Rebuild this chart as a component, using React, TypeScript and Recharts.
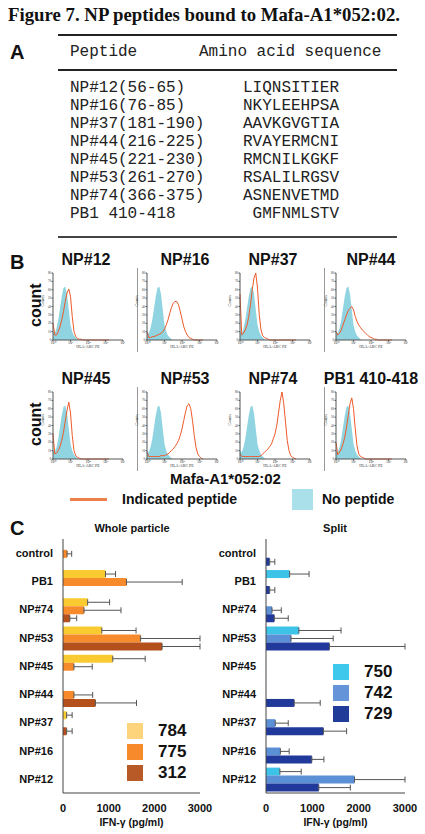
import React from 'react'
import { ComposedChart, Area, Line, BarChart, Bar, ErrorBar, XAxis, YAxis } from 'recharts'

// ---- panel A: peptide table ----
const peptideNames = ['NP#12(56-65)', 'NP#16(76-85)', 'NP#37(181-190)', 'NP#44(216-225)', 'NP#45(221-230)', 'NP#53(261-270)', 'NP#74(366-375)', 'PB1 410-418']
const peptideSeqs = ['LIQNSITIER', 'NKYLEEHPSA', 'AAVKGVGTIA', 'RVAYERMCNI', 'RMCNILKGKF', 'RSALILRGSV', 'ASNENVETMD', ' GMFNMLSTV']

// ---- panel B: flow histograms (x = log10 fluorescence, y = counts) ----
const histBins = [0, 0.1, 0.2, 0.3, 0.4, 0.5, 0.6, 0.7, 0.8, 0.9, 1.0, 1.1, 1.2, 1.3, 1.4, 1.5, 1.6, 1.7, 1.8, 1.9, 2.0, 2.1, 2.2, 2.3, 2.4, 2.5, 2.6, 2.7, 2.8, 2.9, 3.0, 3.1, 3.2]
const noPeptide = [10, 8, 14, 24, 38, 52, 62, 64, 55, 36, 18, 10, 5, 3, 1, 0, 0, 0, 0, 0, 0, 0, 0, 0, 0, 0, 0, 0, 0, 0, 0, 0, 0]
const np12Counts = [20, 6, 6, 10, 16, 24, 34, 46, 56, 61, 52, 28, 10, 4, 2, 1, 1, 0, 0, 0, 0, 0, 0, 0, 0, 0, 0, 0, 0, 0, 0, 0, 0]
const np16Counts = [10, 3, 3, 4, 4, 5, 6, 7, 8, 10, 13, 18, 24, 32, 39, 44, 46, 46, 42, 34, 25, 16, 10, 6, 3, 2, 1, 0, 0, 0, 0, 0, 0]
const np37Counts = [55, 6, 8, 12, 18, 28, 42, 60, 74, 80, 62, 30, 12, 5, 3, 2, 1, 0, 0, 0, 0, 0, 0, 0, 0, 0, 0, 0, 0, 0, 0, 0, 0]
const np44Counts = [10, 6, 8, 12, 18, 24, 30, 35, 38, 40, 36, 28, 22, 18, 15, 12, 10, 8, 6, 4, 3, 2, 1, 1, 0, 0, 0, 0, 0, 0, 0, 0, 0]
const np45Counts = [30, 6, 7, 10, 15, 22, 32, 45, 58, 68, 55, 28, 10, 4, 2, 1, 0, 0, 0, 0, 0, 0, 0, 0, 0, 0, 0, 0, 0, 0, 0, 0, 0]
const np53Counts = [8, 3, 3, 3, 3, 3, 3, 3, 4, 4, 4, 5, 6, 8, 10, 12, 15, 18, 22, 28, 36, 46, 56, 64, 66, 60, 46, 28, 14, 6, 3, 1, 0]
const np74Counts = [6, 3, 3, 3, 3, 3, 3, 3, 3, 3, 3, 3, 4, 6, 8, 10, 12, 15, 18, 24, 30, 40, 55, 70, 80, 66, 44, 22, 10, 4, 2, 1, 0]
const pb1Counts = [20, 5, 8, 12, 18, 26, 38, 52, 66, 73, 60, 36, 16, 6, 3, 2, 1, 0, 0, 0, 0, 0, 0, 0, 0, 0, 0, 0, 0, 0, 0, 0, 0]
const histTitles = ['NP#12', 'NP#16', 'NP#37', 'NP#44', 'NP#45', 'NP#53', 'NP#74', 'PB1 410-418']
const histCounts = [np12Counts, np16Counts, np37Counts, np44Counts, np45Counts, np53Counts, np74Counts, pb1Counts]
const histTicksX = [0, 1, 2, 3, 4]
const histTicksY = [0, 10, 20, 30, 40, 50, 60, 70, 80]

// ---- panel C: IFN-gamma ----
const categories = ['control', 'PB1', 'NP#74', 'NP#53', 'NP#45', 'NP#44', 'NP#37', 'NP#16', 'NP#12']
const whole784 = [0, 930, 540, 850, 1090, 0, 80, 0, 0]
const whole784Err = [0, 220, 480, 750, 710, 0, 120, 0, 0]
const whole775 = [90, 1390, 460, 1700, 240, 240, 0, 0, 0]
const whole775Err = [100, 1220, 810, 1300, 400, 410, 0, 0, 0]
const whole312 = [0, 0, 150, 2170, 0, 710, 80, 0, 0]
const whole312Err = [0, 0, 150, 830, 0, 900, 120, 0, 0]
const split750 = [0, 510, 0, 710, 0, 0, 0, 0, 300]
const split750Err = [0, 420, 0, 910, 0, 0, 0, 0, 460]
const split742 = [0, 0, 130, 540, 0, 0, 200, 310, 1910]
const split742Err = [0, 0, 200, 910, 0, 0, 280, 190, 1090]
const split729 = [80, 80, 180, 1370, 0, 610, 1240, 990, 1140]
const split729Err = [110, 110, 300, 1630, 0, 560, 500, 260, 680]
const ifnTicks = [0, 1000, 2000, 3000]

const sans = 'Arial, "Liberation Sans", sans-serif'
const mono = '"Courier New", "Liberation Mono", monospace'
const sup = ['\u2070', '\u00b9', '\u00b2', '\u00b3', '\u2074']

function abs(left: number, top: number, extra: React.CSSProperties = {}): React.CSSProperties {
  return { position: 'absolute', left, top, ...extra }
}

function Histogram({ counts, left, top }: { counts: number[]; left: number; top: number }) {
  const data = histBins.map((x, i) => ({ x, none: noPeptide[i], pep: counts[i] }))
  const ml = 10
  return (
    <div style={abs(left - ml - 3, top - 2)}>
      <ComposedChart width={3 + ml + 70 + 2} height={2 + 67 + 16} data={data} margin={{ top: 2, right: 2, bottom: 0, left: 3 }}>
        <XAxis
          dataKey="x"
          type="number"
          domain={[0, 4]}
          ticks={histTicksX}
          interval={0}
          tickFormatter={(v: number) => '10' + sup[v]}
          tick={{ fontSize: 4, fill: '#333' }}
          tickSize={1.5}
          tickMargin={0}
          height={16}
          axisLine={{ stroke: '#555' }}
          tickLine={{ stroke: '#555' }}
          label={{ value: 'HLA-ABC PE', position: 'insideBottom', offset: 8, fontSize: 4, fill: '#333' }}
        />
        <XAxis xAxisId="top" orientation="top" type="number" domain={[0, 4]} tick={false} tickLine={false} height={0} axisLine={{ stroke: '#aaa' }} />
        <YAxis
          type="number"
          domain={[0, 80]}
          ticks={histTicksY}
          interval={0}
          tick={{ fontSize: 3, fill: '#333' }}
          tickSize={1.5}
          tickMargin={0.5}
          width={ml}
          axisLine={{ stroke: '#555' }}
          tickLine={{ stroke: '#555' }}
          label={{ value: 'Counts', angle: -90, position: 'insideLeft', offset: 0, fontSize: 4, fill: '#333' }}
        />
        <YAxis yAxisId="right" orientation="right" type="number" domain={[0, 80]} width={0} tick={false} tickLine={false} axisLine={{ stroke: '#aaa' }} />
        <Area dataKey="none" type="linear" fill="#8fd4e0" fillOpacity={1} stroke="none" isAnimationActive={false} />
        <Line dataKey="pep" type="linear" stroke="#ee5a2a" strokeWidth={1} dot={false} isAnimationActive={false} />
      </ComposedChart>
    </div>
  )
}

type Series = { name: string; values: number[]; errors: number[]; color: string }

function IfnChart({ left, plotW, series }: { left: number; plotW: number; series: Series[] }) {
  const data = categories.map((name, i) => {
    const row: Record<string, unknown> = { name }
    series.forEach((s, k) => {
      row['v' + k] = s.values[i]
      row['e' + k] = s.errors[i] > 0 ? [0, s.errors[i]] : null
    })
    return row
  })
  const yw = 63
  return (
    <div style={abs(left, 535)}>
      <BarChart
        layout="vertical"
        width={yw + plotW + 14}
        height={4 + 254 + 36}
        data={data}
        margin={{ top: 4, right: 14, bottom: 0, left: 0 }}
        barCategoryGap="10%"
        barGap={0}
      >
        <XAxis
          type="number"
          domain={[0, 3000]}
          ticks={ifnTicks}
          interval={0}
          allowDataOverflow
          tick={{ fontSize: 11, fontWeight: 'bold', fill: '#111', fontFamily: sans }}
          tickLine={false}
          tickSize={0}
          tickMargin={11}
          height={36}
          axisLine={{ stroke: '#444' }}
          label={{ value: 'IFN-\u03b3 (pg/ml)', position: 'insideBottom', offset: 3, fontSize: 10.5, fontWeight: 'bold', fill: '#111', fontFamily: sans }}
        />
        <XAxis xAxisId="top" orientation="top" type="number" domain={[0, 3000]} tick={false} tickLine={false} height={0} axisLine={{ stroke: '#444' }} />
        <YAxis
          type="category"
          dataKey="name"
          width={yw}
          tick={{ fontSize: 11, fontWeight: 'bold', fill: '#111', fontFamily: sans }}
          tickLine={false}
          tickSize={0}
          tickMargin={10}
          interval={0}
          axisLine={{ stroke: '#444' }}
        />
        <YAxis yAxisId="right" orientation="right" type="category" dataKey="name" width={0} tick={false} tickLine={false} axisLine={{ stroke: '#444' }} />
        {series.map((s, k) => (
          <Bar key={s.name} dataKey={'v' + k} fill={s.color} isAnimationActive={false}>
            <ErrorBar dataKey={'e' + k} direction="x" width={3} stroke="#555" strokeWidth={1} />
          </Bar>
        ))}
      </BarChart>
    </div>
  )
}

function SwatchLegend({ left, top, items }: { left: number; top: number; items: { label: string; color: string }[] }) {
  return (
    <>
      {items.map((it, i) => (
        <div key={it.label} style={abs(left, top + i * 21, { display: 'flex', alignItems: 'center' })}>
          <div style={{ width: 16, height: 16, background: it.color }} />
          <div style={{ marginLeft: 15, fontFamily: sans, fontWeight: 'bold', fontSize: 17, lineHeight: '16px', color: '#111' }}>{it.label}</div>
        </div>
      ))}
    </>
  )
}

const histLefts = [53, 147, 240, 336]
const histTitleCenters = [86, 185, 273, 371]
const histTops = [273, 392]

export default function App() {
  const panelLetter: React.CSSProperties = { fontFamily: sans, fontWeight: 'bold', fontSize: 20, lineHeight: '20px', color: '#111' }
  const histTitle: React.CSSProperties = { fontFamily: sans, fontWeight: 'bold', fontSize: 16, lineHeight: '16px', color: '#111', width: 120, textAlign: 'center' }
  const rowText: React.CSSProperties = { fontFamily: mono, fontSize: 16, lineHeight: '16px', color: '#222', whiteSpace: 'pre' }

  return (
    <div style={{ position: 'absolute', left: 0, top: 0, width: 425, height: 834, background: '#fff', overflow: 'hidden' }}>
      <div style={abs(8, 5, { fontFamily: '"Times New Roman", "Liberation Serif", serif', fontWeight: 'bold', fontSize: 18.8, lineHeight: '20px', whiteSpace: 'nowrap', color: '#111' })}>
        Figure 7. NP peptides bound to Mafa-A1*052:02.
      </div>

      {/* A */}
      <div style={abs(10, 42, panelLetter)}>A</div>
      <div style={abs(58, 34, { width: 339, height: 2, background: '#222' })} />
      <div style={abs(70, 44, rowText)}>Peptide</div>
      <div style={abs(199, 44, rowText)}>Amino acid sequence</div>
      <div style={abs(58, 69, { width: 339, height: 2, background: '#222' })} />
      {peptideNames.map((n, i) => (
        <React.Fragment key={n}>
          <div style={abs(70, 80 + i * 18, rowText)}>{n}</div>
          <div style={abs(243, 80 + i * 18, rowText)}>{peptideSeqs[i]}</div>
        </React.Fragment>
      ))}
      <div style={abs(58, 236, { width: 339, height: 2, background: '#444' })} />

      {/* B */}
      <div style={abs(10, 252, panelLetter)}>B</div>
      {histTops.map((top, r) => (
        <div key={r}>
          <div style={abs(16, top + 26, { width: 40, textAlign: 'center', transform: 'rotate(-90deg)', fontFamily: sans, fontWeight: 'bold', fontSize: 16, lineHeight: '16px', color: '#111' })}>count</div>
          <div style={abs(137, top - 5, { width: 1, height: 84, background: '#999' })} />
          <div style={abs(324, top - 5, { width: 1, height: 84, background: '#999' })} />
          {histLefts.map((l, c) => {
            const idx = r * 4 + c
            return (
              <React.Fragment key={idx}>
                <div style={abs(histTitleCenters[c] - 60, top - 21, histTitle)}>{histTitles[idx]}</div>
                <Histogram counts={histCounts[idx]} left={l} top={top} />
              </React.Fragment>
            )
          })}
        </div>
      ))}
      <div style={abs(170, 472, { fontFamily: sans, fontWeight: 'bold', fontSize: 15, lineHeight: '14px', color: '#111' })}>Mafa-A1*052:02</div>
      <div style={abs(70, 498, { width: 37, height: 3, background: '#f0804a' })} />
      <div style={abs(122, 491, { fontFamily: sans, fontWeight: 'bold', fontSize: 14, lineHeight: '16px', color: '#111' })}>Indicated peptide</div>
      <div style={abs(292, 489, { width: 21, height: 21, background: '#a9e0ea' })} />
      <div style={abs(322, 491, { fontFamily: sans, fontWeight: 'bold', fontSize: 14, lineHeight: '16px', color: '#111' })}>No peptide</div>

      {/* C */}
      <div style={abs(10, 518, panelLetter)}>C</div>
      <div style={abs(72, 522, { width: 120, textAlign: 'center', fontFamily: sans, fontWeight: 'bold', fontSize: 11, lineHeight: '12px', color: '#111' })}>Whole particle</div>
      <div style={abs(275, 522, { width: 120, textAlign: 'center', fontFamily: sans, fontWeight: 'bold', fontSize: 11, lineHeight: '12px', color: '#111' })}>Split</div>
      <IfnChart
        left={0}
        plotW={137}
        series={[
          { name: '784', values: whole784, errors: whole784Err, color: '#f9cb30' },
          { name: '775', values: whole775, errors: whole775Err, color: '#f78a2b' },
          { name: '312', values: whole312, errors: whole312Err, color: '#b4501c' },
        ]}
      />
      <IfnChart
        left={203}
        plotW={139}
        series={[
          { name: '750', values: split750, errors: split750Err, color: '#3ec3e8' },
          { name: '742', values: split742, errors: split742Err, color: '#5b8fd6' },
          { name: '729', values: split729, errors: split729Err, color: '#20399a' },
        ]}
      />
      <SwatchLegend
        left={127}
        top={723}
        items={[
          { label: '784', color: '#fdd47c' },
          { label: '775', color: '#f78a2b' },
          { label: '312', color: '#b85a28' },
        ]}
      />
      <SwatchLegend
        left={333}
        top={664}
        items={[
          { label: '750', color: '#3ec8ec' },
          { label: '742', color: '#6594d8' },
          { label: '729', color: '#213b98' },
        ]}
      />
    </div>
  )
}
